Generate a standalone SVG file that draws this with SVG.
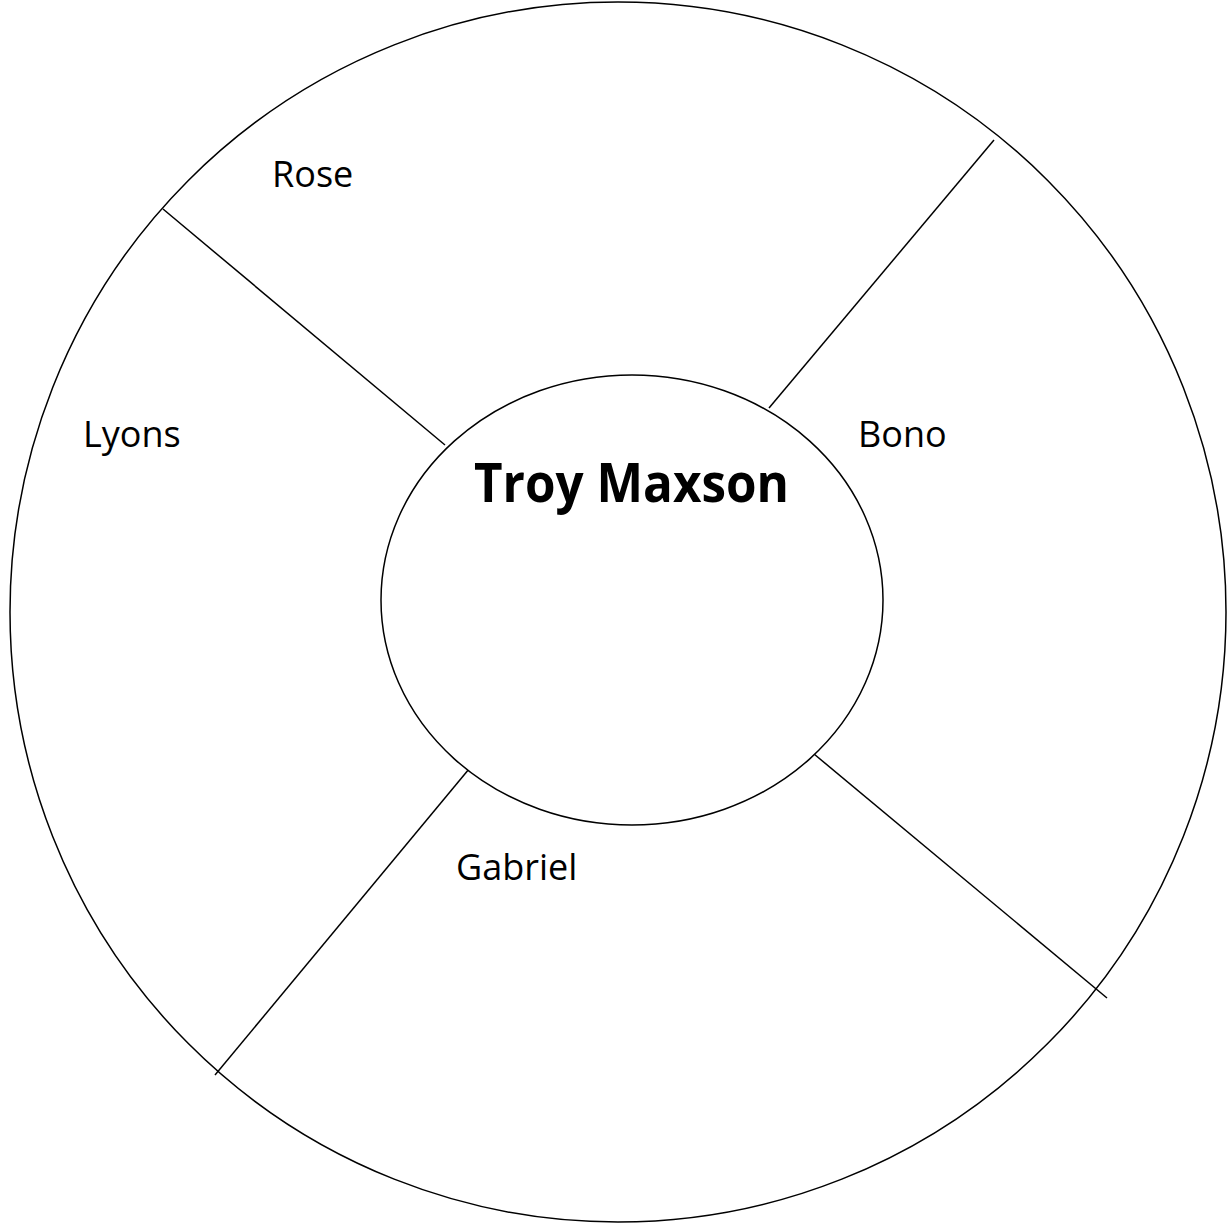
<svg xmlns="http://www.w3.org/2000/svg" width="1228" height="1224" viewBox="0 0 1228 1224">
<style>
.shape{fill:#fff;stroke:#000;stroke-width:1.5}
.ln{stroke:#000;stroke-width:1.5;fill:none}
.lbl{font-family:"Open Sans","Liberation Sans",sans-serif;font-size:36px;fill:#000}
.title{font-family:"Open Sans","Liberation Sans",sans-serif;font-size:54px;font-weight:bold;fill:#000}
</style>
<rect width="1228" height="1224" fill="#fff"/>
<g id="outer"><ellipse class="shape" cx="618" cy="612" rx="608" ry="610"/></g>
<g id="connectors">
<line class="ln" x1="163" y1="209" x2="445" y2="445"/>
<line class="ln" x1="994" y1="140" x2="769" y2="408"/>
<line class="ln" x1="469" y1="769" x2="215" y2="1075"/>
<line class="ln" x1="814" y1="754" x2="1107" y2="998"/>
</g>
<g id="center"><ellipse class="shape" cx="632" cy="600" rx="251" ry="225"/>
<text class="title" x="474" y="502" textLength="315" lengthAdjust="spacingAndGlyphs">Troy Maxson</text></g>
<g id="rose"><text class="lbl" x="272" y="187">Rose</text></g>
<g id="lyons"><text class="lbl" x="83" y="447">Lyons</text></g>
<g id="bono"><text class="lbl" x="858" y="447">Bono</text></g>
<g id="gabriel"><text class="lbl" x="456" y="880">Gabriel</text></g>
</svg>
